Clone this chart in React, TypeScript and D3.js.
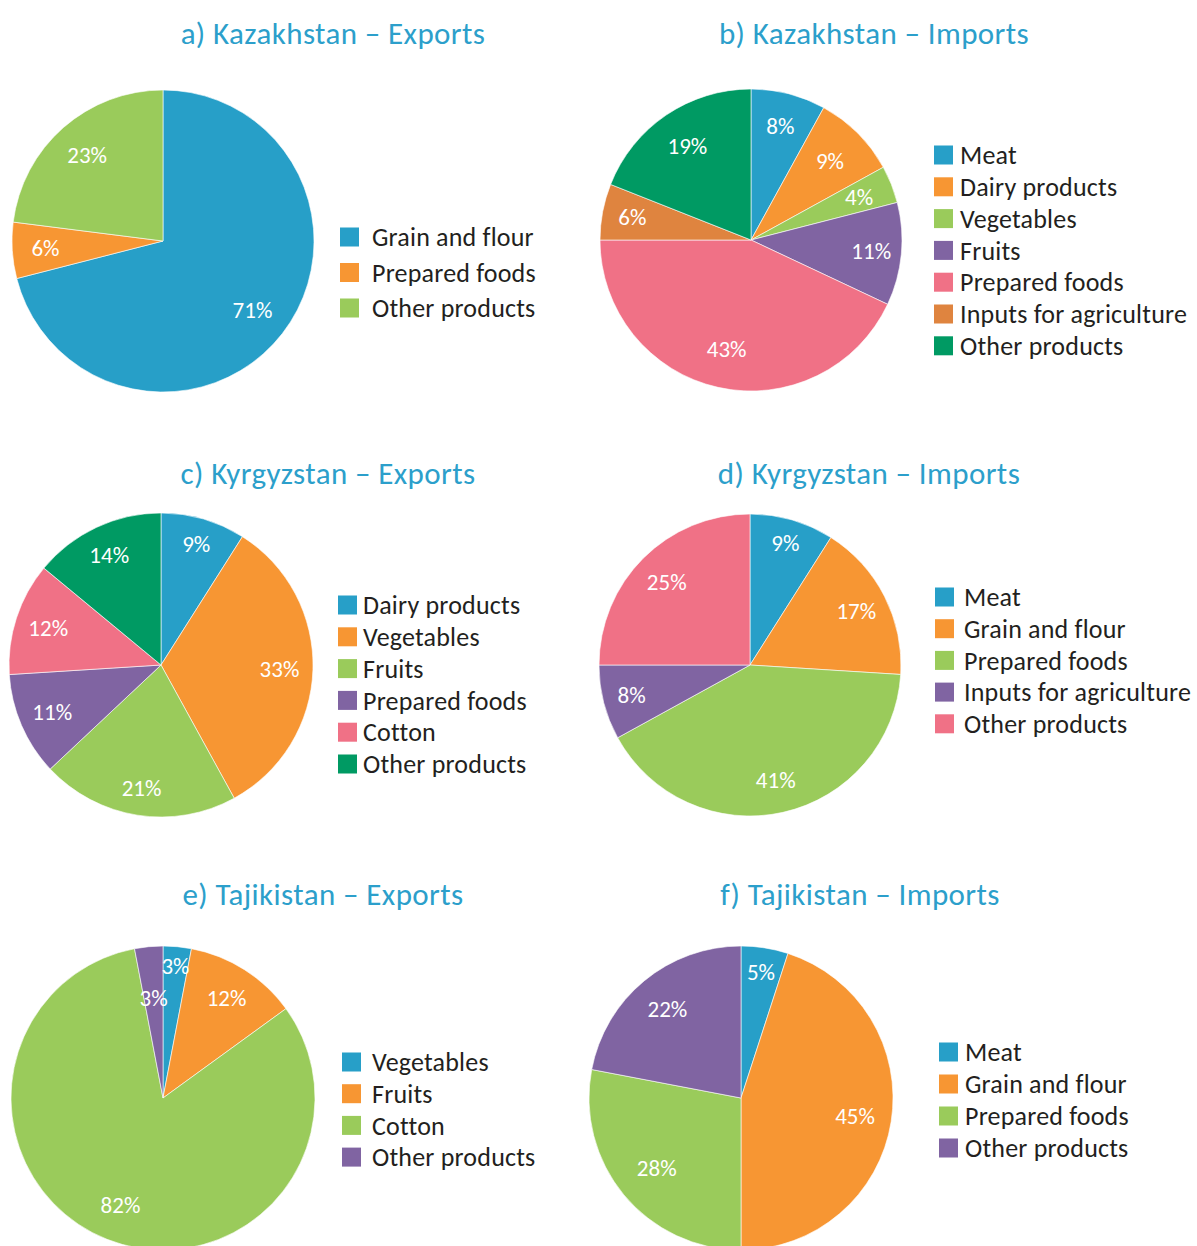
import React from 'react';
import * as d3 from 'd3';

// categories / values per chart
const kzExportCats = ['Grain and flour', 'Prepared foods', 'Other products'];
const kzExportVals = [71, 6, 23];

const kzImportCats = ['Meat', 'Dairy products', 'Vegetables', 'Fruits', 'Prepared foods', 'Inputs for agriculture', 'Other products'];
const kzImportVals = [8, 9, 4, 11, 43, 6, 19];

const kgExportCats = ['Dairy products', 'Vegetables', 'Fruits', 'Prepared foods', 'Cotton', 'Other products'];
const kgExportVals = [9, 33, 21, 11, 12, 14];

const kgImportCats = ['Meat', 'Grain and flour', 'Prepared foods', 'Inputs for agriculture', 'Other products'];
const kgImportVals = [9, 17, 41, 8, 25];

const tjExportCats = ['Vegetables', 'Fruits', 'Cotton', 'Other products'];
const tjExportVals = [3, 12, 82, 3];

const tjImportCats = ['Meat', 'Grain and flour', 'Prepared foods', 'Other products'];
const tjImportVals = [5, 45, 28, 22];

const titles = [
  'a) Kazakhstan – Exports',
  'b) Kazakhstan – Imports',
  'c) Kyrgyzstan – Exports',
  'd) Kyrgyzstan – Imports',
  'e) Tajikistan – Exports',
  'f) Tajikistan – Imports',
];

const BLUE = '#279fc8';
const ORANGE = '#f79633';
const GREEN = '#9acb5b';
const PURPLE = '#8064a2';
const PINK = '#f07186';
const BROWN = '#df843f';
const DKGREEN = '#009a63';

const FONT = 'Carlito, Calibri, Lato, sans-serif';

// layout per panel
const panels = [
  { cats: kzExportCats, vals: kzExportVals, colors: [BLUE, ORANGE, GREEN], cx: 163, cy: 241, r: 151, tx: 333, ty: 33, lx: 340, ly: 237, ls: 35.5, to: 32, lr: [0.75, 0.78, 0.76] },
  { cats: kzImportCats, vals: kzImportVals, colors: [BLUE, ORANGE, GREEN, PURPLE, PINK, BROWN, DKGREEN], cx: 751, cy: 240, r: 151, tx: 874, ty: 33, lx: 934, ly: 155, ls: 31.8, to: 26, lr: [0.78, 0.74, 0.77, 0.8, 0.74, 0.8, 0.75] },
  { cats: kgExportCats, vals: kgExportVals, colors: [BLUE, ORANGE, GREEN, PURPLE, PINK, DKGREEN], cx: 161, cy: 665, r: 152, tx: 328, ty: 473, lx: 338, ly: 605, ls: 31.8, to: 25, lr: [0.83, 0.78, 0.82, 0.78, 0.78, 0.8] },
  { cats: kgImportCats, vals: kgImportVals, colors: [BLUE, ORANGE, GREEN, PURPLE, PINK], cx: 750, cy: 665, r: 151, tx: 869, ty: 473, lx: 935, ly: 597, ls: 31.7, to: 29, lr: [0.84, 0.79, 0.78, 0.81, 0.78] },
  { cats: tjExportCats, vals: tjExportVals, colors: [BLUE, ORANGE, GREEN, PURPLE], cx: 163, cy: 1098, r: 152, tx: 323, ty: 894, lx: 342, ly: 1062, ls: 31.7, to: 30, lr: [0.87, 0.78, 0.76, 0.66] },
  { cats: tjImportCats, vals: tjImportVals, colors: [BLUE, ORANGE, GREEN, PURPLE], cx: 741, cy: 1098, r: 152, tx: 860, ty: 894, lx: 939, ly: 1052, ls: 32, to: 26, lr: [0.84, 0.76, 0.72, 0.76] },
];

function Pie({ p, title }: { p: any; title: string }) {
  const pie = d3.pie<number>().sort(null).value((d) => d);
  const arcs = pie(p.vals);
  const arc = d3.arc<d3.PieArcDatum<number>>().innerRadius(0).outerRadius(p.r);
  return (
    <g>
      <text x={p.tx} y={p.ty} dy="0.35em" textAnchor="middle" fill="#2c9fcb" fontSize={31} letterSpacing={0.4} fontFamily={FONT}>
        {title}
      </text>
      <g transform={`translate(${p.cx},${p.cy})`}>
        {arcs.map((a, i) => (
          <path key={i} d={arc(a) || ''} fill={p.colors[i]} stroke="#ffffff" strokeWidth={0.6} />
        ))}
        {arcs.map((a, i) => {
          const la = d3.arc<d3.PieArcDatum<number>>().innerRadius(p.r * p.lr[i]).outerRadius(p.r * p.lr[i]);
          const [x, y] = la.centroid(a);
          return (
            <text key={'l' + i} x={x} y={y} dy="0.35em" textAnchor="middle" fill="#ffffff" fontSize={23} fontFamily={FONT}>
              {a.data}%
            </text>
          );
        })}
      </g>
      <g transform={`translate(${p.lx},${p.ly})`}>
        {p.cats.map((c: string, i: number) => (
          <g key={c} transform={`translate(0,${i * p.ls})`}>
            <rect x={0} y={-9.5} width={19} height={19} fill={p.colors[i]} />
            <text x={p.to} y={0} dy="0.35em" fill="#231f20" fontSize={26} letterSpacing={0.2} fontFamily={FONT}>
              {c}
            </text>
          </g>
        ))}
      </g>
    </g>
  );
}

export default function App() {
  return (
    <svg width={1197} height={1246} style={{ position: 'absolute', left: 0, top: 0, background: '#fff' }}>
      {panels.map((p, i) => (
        <Pie key={i} p={p} title={titles[i]} />
      ))}
    </svg>
  );
}
